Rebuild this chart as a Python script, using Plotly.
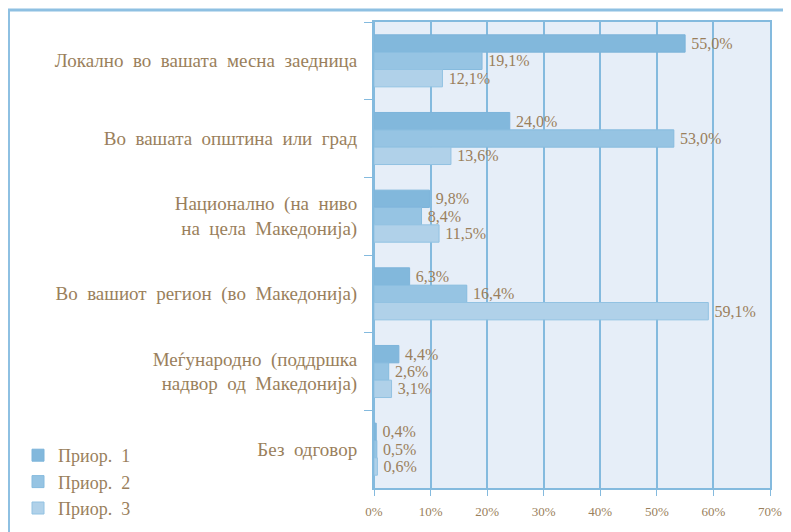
import plotly.graph_objects as go

categories = [
    "Локално\u00a0 во\u00a0 вашата\u00a0 месна\u00a0 заедница",
    "Во\u00a0 вашата\u00a0 општина\u00a0 или\u00a0 град",
    "Национално\u00a0 (на\u00a0 ниво<br>на\u00a0 цела\u00a0 Македонија)",
    "Во\u00a0 вашиот\u00a0 регион\u00a0 (во\u00a0 Македонија)",
    "Меѓународно\u00a0 (поддршка<br>надвор\u00a0 од\u00a0 Македонија)",
    "Без\u00a0 одговор",
]
series_names = ["Приор.\u00a0 1", "Приор.\u00a0 2", "Приор.\u00a0 3"]
prior1 = [55.0, 24.0, 9.8, 6.3, 4.4, 0.4]
prior2 = [19.1, 53.0, 8.4, 16.4, 2.6, 0.5]
prior3 = [12.1, 13.6, 11.5, 59.1, 3.1, 0.6]
tick_vals = [0, 10, 20, 30, 40, 50, 60, 70]
tick_text = ["0%", "10%", "20%", "30%", "40%", "50%", "60%", "70%"]

colors = ["#82b8dc", "#96c4e3", "#b0d1e9"]
line_colors = ["#7db4da", "#86bbde", "#92c2e2"]
text_color = "#9a7f5c"
font_family = "Liberation Serif"

fig = go.Figure()
for name, vals, c, lc in zip(series_names, [prior1, prior2, prior3], colors, line_colors):
    fig.add_trace(go.Bar(
        y=categories, x=vals, name=name, orientation="h",
        marker=dict(color=c, line=dict(color=lc, width=1)),
        text=["\u2009" + f"{v:.1f}".replace(".", ",") + "%" for v in vals],
        textposition="outside", cliponaxis=False, constraintext="none",
        textfont=dict(color=text_color, size=16, family=font_family),
    ))

# figure is placed at page offset (8, 8) by the body margin
OFF = 8
W, H = 783, 524
L, R, T, B = 374 - OFF, 21, 22 - OFF, 44
pw, ph = W - L - R, H - T - B

def px_x(x):
    return (x - OFF - L) / pw

def px_y(y):
    return (H - B - (y - OFF)) / ph

frame = "#8ec0e2"
shapes = [
    dict(type="line", xref="paper", yref="paper", x0=px_x(7), x1=px_x(800), y0=px_y(10), y1=px_y(10),
         line=dict(color=frame, width=3)),
    dict(type="line", xref="paper", yref="paper", x0=px_x(8.5), x1=px_x(8.5), y0=px_y(9), y1=px_y(540),
         line=dict(color=frame, width=3)),
]

fig.update_layout(
    width=W, height=H,
    margin=dict(l=L, r=R, t=T, b=B, autoexpand=False),
    paper_bgcolor="white",
    plot_bgcolor="#e6eef8",
    barmode="group",
    bargap=0.33, bargroupgap=0,
    font=dict(family=font_family, color=text_color),
    shapes=shapes,
    showlegend=True,
    legend=dict(
        x=px_x(18), y=px_y(482), xanchor="left", yanchor="middle",
        traceorder="normal", orientation="v",
        font=dict(size=18, color=text_color, family=font_family),
        itemwidth=30, tracegroupgap=0, bgcolor="rgba(0,0,0,0)",
    ),
    xaxis=dict(
        range=[0, 70], tickvals=tick_vals, ticktext=tick_text,
        showgrid=True, gridcolor="#84bade", gridwidth=2,
        zeroline=True, zerolinecolor="#84bade", zerolinewidth=2,
        showline=True, linecolor="#84bade", linewidth=2, mirror=True,
        ticks="outside", ticklen=6, tickcolor="#84bade", tickwidth=1,
        tickfont=dict(size=13, color=text_color, family=font_family),
        ticklabelstandoff=4, automargin=False,
        fixedrange=True,
    ),
    yaxis=dict(
        autorange="reversed",
        showline=True, linecolor="#84bade", linewidth=2, mirror=True,
        ticks="outside", tickson="boundaries", ticklen=8, tickcolor="#84bade", tickwidth=1,
        showgrid=False,
        tickfont=dict(size=19, color=text_color, family=font_family),
        ticklabelstandoff=11, automargin=False,
        fixedrange=True,
    ),
)

fig.write_html("out.html")
